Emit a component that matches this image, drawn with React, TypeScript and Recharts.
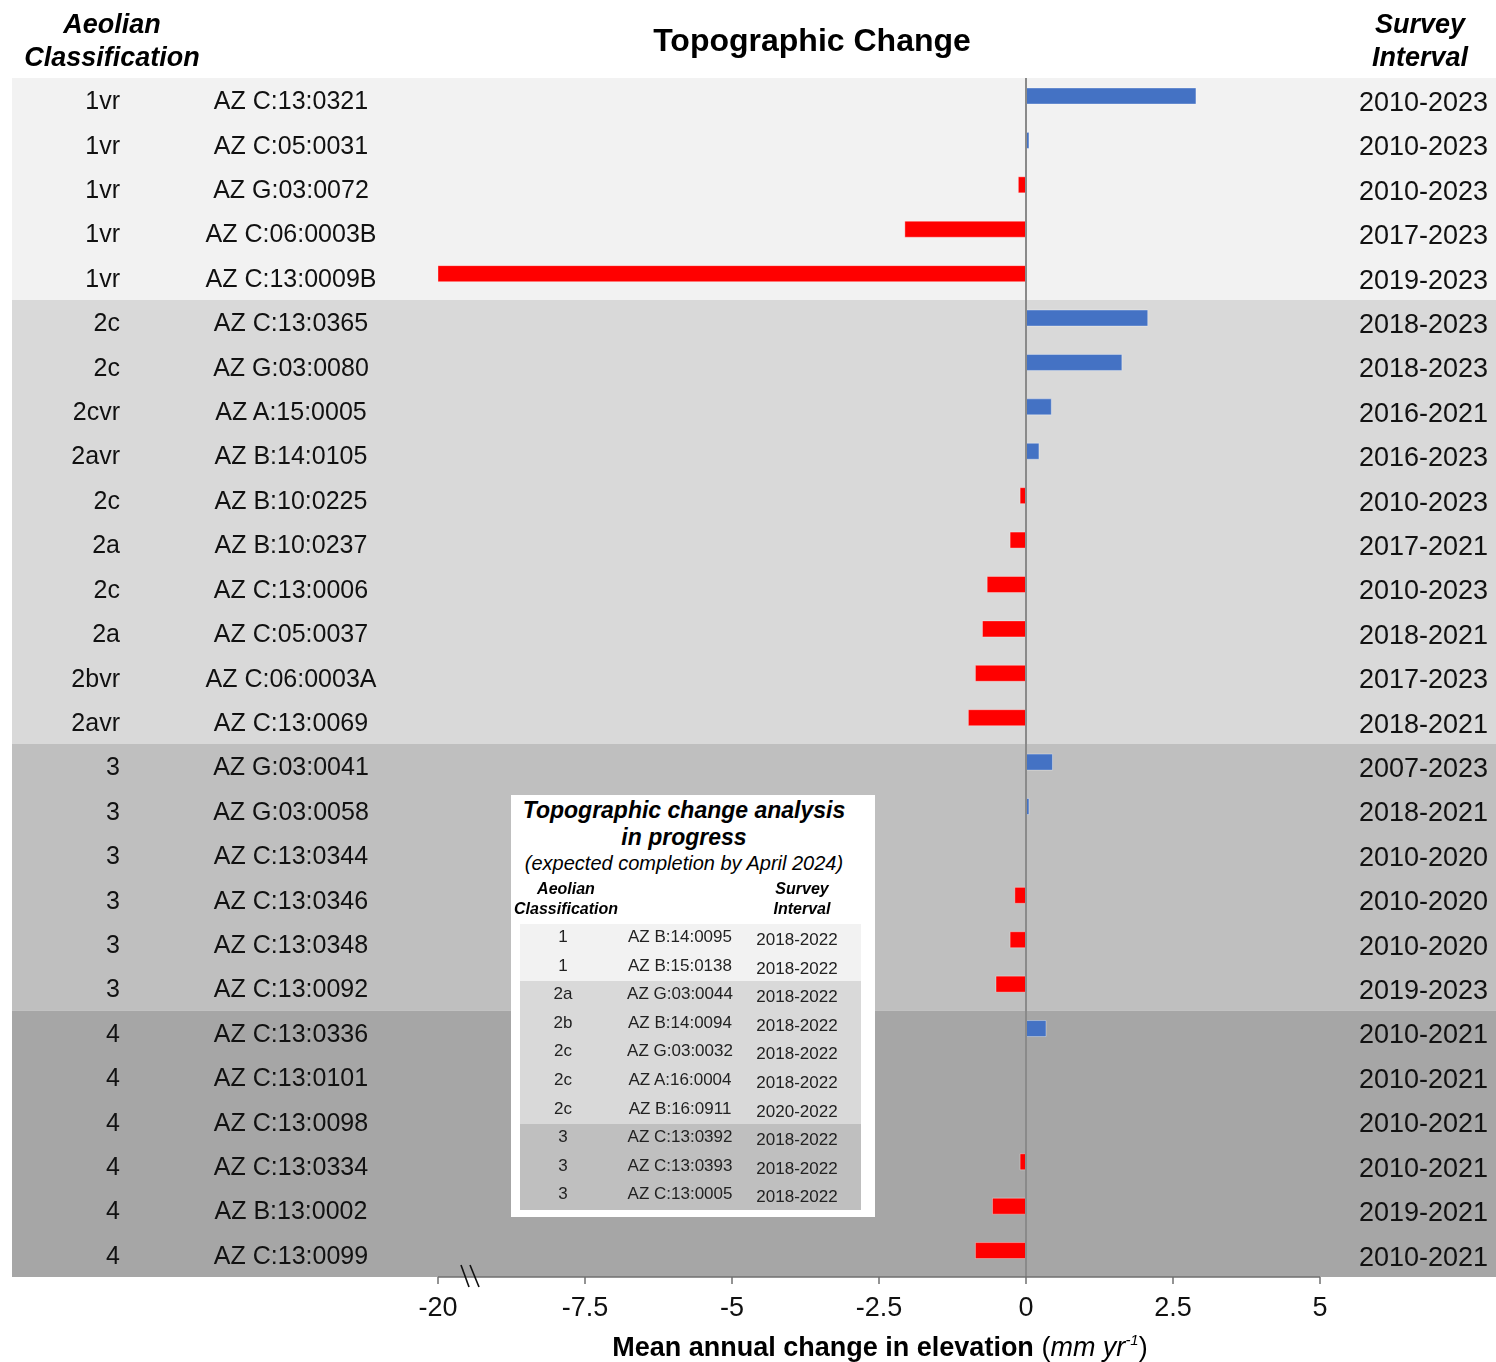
import React from 'react';
import { BarChart, Bar, XAxis, YAxis, ReferenceArea, ReferenceLine, Cell, Rectangle } from 'recharts';

// ---------- data ----------
const classes = ['1vr', '1vr', '1vr', '1vr', '1vr', '2c', '2c', '2cvr', '2avr', '2c', '2a', '2c', '2a', '2bvr', '2avr', '3', '3', '3', '3', '3', '3', '4', '4', '4', '4', '4', '4'];
const sites = ['AZ C:13:0321', 'AZ C:05:0031', 'AZ G:03:0072', 'AZ C:06:0003B', 'AZ C:13:0009B', 'AZ C:13:0365', 'AZ G:03:0080', 'AZ A:15:0005', 'AZ B:14:0105', 'AZ B:10:0225', 'AZ B:10:0237', 'AZ C:13:0006', 'AZ C:05:0037', 'AZ C:06:0003A', 'AZ C:13:0069', 'AZ G:03:0041', 'AZ G:03:0058', 'AZ C:13:0344', 'AZ C:13:0346', 'AZ C:13:0348', 'AZ C:13:0092', 'AZ C:13:0336', 'AZ C:13:0101', 'AZ C:13:0098', 'AZ C:13:0334', 'AZ B:13:0002', 'AZ C:13:0099'];
const intervals = ['2010-2023', '2010-2023', '2010-2023', '2017-2023', '2019-2023', '2018-2023', '2018-2023', '2016-2021', '2016-2023', '2010-2023', '2017-2021', '2010-2023', '2018-2021', '2017-2023', '2018-2021', '2007-2023', '2018-2021', '2010-2020', '2010-2020', '2010-2020', '2019-2023', '2010-2021', '2010-2021', '2010-2021', '2010-2021', '2019-2021', '2010-2021'];
const changes: (number | null)[] = [2.89, 0.05, -0.13, -2.06, -20, 2.07, 1.63, 0.43, 0.22, -0.1, -0.27, -0.66, -0.74, -0.86, -0.98, 0.45, 0.05, null, -0.19, -0.27, -0.51, 0.34, null, null, -0.1, -0.57, -0.86];

const groupRanges = [[0, 4], [5, 14], [15, 20], [21, 26]];
const groupColors = ['#f2f2f2', '#d9d9d9', '#bfbfbf', '#a6a6a6'];

const xTicks = [-20, -7.5, -5, -2.5, 0, 2.5, 5];

// inset table
const insetClasses = ['1', '1', '2a', '2b', '2c', '2c', '2c', '3', '3', '3'];
const insetSites = ['AZ B:14:0095', 'AZ B:15:0138', 'AZ G:03:0044', 'AZ B:14:0094', 'AZ G:03:0032', 'AZ A:16:0004', 'AZ B:16:0911', 'AZ C:13:0392', 'AZ C:13:0393', 'AZ C:13:0005'];
const insetIntervals = ['2018-2022', '2018-2022', '2018-2022', '2018-2022', '2018-2022', '2018-2022', '2020-2022', '2018-2022', '2018-2022', '2018-2022'];
const insetColors = ['#f2f2f2', '#f2f2f2', '#d9d9d9', '#d9d9d9', '#d9d9d9', '#d9d9d9', '#d9d9d9', '#bfbfbf', '#bfbfbf', '#bfbfbf'];

// ---------- broken axis mapping ----------
const BREAK = -7.5;
const COMPRESS = 2.5 / 12.5; // -20 .. -7.5 squeezed into -10 .. -7.5
const toPlot = (v: number) => (v >= BREAK ? v : BREAK + (v - BREAK) * COMPRESS);
const fromPlot = (p: number) => (p >= BREAK ? p : BREAK + (p - BREAK) / COMPRESS);

const rows = sites.map((site, i) => ({
  site,
  cls: classes[i],
  interval: intervals[i],
  change: changes[i],
  plot: changes[i] == null ? null : toPlot(changes[i] as number),
}));

// ---------- layout ----------
const W = 1488;
const H = 1354;
const PLOT_LEFT = 430;
const PLOT_RIGHT = 1312;
const PLOT_TOP = 70;
const PLOT_BOTTOM = 1269;
const X_AXIS_H = 60;
const BAND_LEFT = 4;
const BAND_RIGHT = 1488;
const DOMAIN: [number, number] = [toPlot(-20), 5];
const pxPerUnit = (PLOT_RIGHT - PLOT_LEFT) / (DOMAIN[1] - DOMAIN[0]);
const bandX1 = DOMAIN[0] - (PLOT_LEFT - BAND_LEFT) / pxPerUnit;
const bandX2 = DOMAIN[1] + (BAND_RIGHT - PLOT_RIGHT) / pxPerUnit;

const FONT = "'Liberation Sans', Arial, Helvetica, sans-serif";
const CLASS_X = 112;
const SITE_X = 283;
const INTERVAL_X = 1480;

const RowTick = (props: any) => {
  const { y, payload } = props;
  const row = rows.find((r) => r.site === payload.value);
  if (!row) return null;
  return (
    <g fontFamily={FONT}>
      <text x={CLASS_X} y={y} dy="0.36em" textAnchor="end" fontSize={25} fill="#111">{row.cls}</text>
      <text x={SITE_X} y={y} dy="0.36em" textAnchor="middle" fontSize={25} fill="#111">{row.site}</text>
      <text x={INTERVAL_X} y={y + 1} dy="0.36em" textAnchor="end" fontSize={27} fill="#111">{row.interval}</text>
    </g>
  );
};

const BarShape = (props: any) => <Rectangle {...props} y={props.y - 4} />;

const abs = (left: number, top: number, width: number, extra: React.CSSProperties = {}): React.CSSProperties => ({
  position: 'absolute', left, top, width, textAlign: 'center', fontFamily: FONT, color: '#000', ...extra,
});

export default function App() {
  return (
    <div style={{ position: 'fixed', left: 8, top: 8, width: W, height: H, fontFamily: FONT }}>
      <BarChart
        width={W}
        height={H}
        data={rows}
        layout="vertical"
        margin={{ top: PLOT_TOP, right: W - PLOT_RIGHT, bottom: H - PLOT_BOTTOM - X_AXIS_H, left: 0 }}
        barSize={16}
      >
        {groupRanges.map(([a, b], gi) => (
          <ReferenceArea
            key={gi}
            y1={sites[a]}
            y2={sites[b]}
            x1={bandX1}
            x2={bandX2}
            ifOverflow="visible"
            fill={groupColors[gi]}
            fillOpacity={1}
            stroke="none"
          />
        ))}
        <XAxis
          type="number"
          dataKey="plot"
          domain={DOMAIN}
          ticks={xTicks.map(toPlot)}
          allowDataOverflow
          height={X_AXIS_H}
          tickFormatter={(v: number) => String(Math.round(fromPlot(v) * 10) / 10)}
          tick={{ fontSize: 27, fill: '#111', fontFamily: FONT }}
          tickSize={7}
          tickMargin={13}
          axisLine={{ stroke: '#6f6f6f', strokeWidth: 1.5 }}
          tickLine={{ stroke: '#6f6f6f', strokeWidth: 1.5 }}
        />
        <YAxis
          type="category"
          dataKey="site"
          width={PLOT_LEFT}
          interval={0}
          axisLine={false}
          tickLine={false}
          tick={<RowTick />}
        />
        <Bar dataKey="plot" isAnimationActive={false} shape={<BarShape />} stroke="rgba(255,255,255,0.35)" strokeWidth={1}>
          {rows.map((r, i) => (
            <Cell key={i} fill={(r.change ?? 0) >= 0 ? '#4472c4' : '#ff0000'} />
          ))}
        </Bar>
        <ReferenceLine x={0} stroke="#8a8a8a" strokeWidth={2} ifOverflow="visible" />
      </BarChart>

      {/* headers */}
      <div style={abs(4, 0, 200, { fontSize: 27, fontWeight: 'bold', fontStyle: 'italic', lineHeight: '33px' })}>
        Aeolian<br />Classification
      </div>
      <div style={abs(604, 12, 400, { fontSize: 32, fontWeight: 'bold', lineHeight: '40px' })}>Topographic Change</div>
      <div style={abs(1312, 0, 200, { fontSize: 27, fontWeight: 'bold', fontStyle: 'italic', lineHeight: '33px' })}>
        Survey<br />Interval
      </div>

      {/* axis title */}
      <div style={abs(472, 1323, 800, { fontSize: 27, lineHeight: '32px', height: 32, whiteSpace: 'nowrap' })}>
        <span style={{ fontWeight: 'bold' }}>Mean annual change in elevation</span>{' '}
        <span>(<i>mm yr<span style={{ fontSize: 15, position: 'relative', top: -11 }}>-1</span></i>)</span>
      </div>

      {/* axis break marks */}
      <svg style={{ position: 'absolute', left: 0, top: 0, pointerEvents: 'none' }} width={W} height={H}>
        <line x1={453} y1={1257} x2={461} y2={1279} stroke="#111" strokeWidth={1.6} />
        <line x1={462} y1={1257} x2={471} y2={1279} stroke="#111" strokeWidth={1.6} />
      </svg>

      {/* inset */}
      <div style={{ position: 'absolute', left: 503, top: 787, width: 364, height: 422, background: '#fff', fontFamily: FONT }}>
        <div style={abs(0, 2, 346, { fontSize: 23, fontWeight: 'bold', fontStyle: 'italic', lineHeight: '27px' })}>
          Topographic change analysis<br />in progress
        </div>
        <div style={abs(0, 56, 346, { fontSize: 20, fontStyle: 'italic', lineHeight: '24px', whiteSpace: 'nowrap' })}>
          (expected completion by April 2024)
        </div>
        <div style={abs(-45, 84, 200, { fontSize: 16, fontWeight: 'bold', fontStyle: 'italic', lineHeight: '20px' })}>
          Aeolian<br />Classification
        </div>
        <div style={abs(191, 84, 200, { fontSize: 16, fontWeight: 'bold', fontStyle: 'italic', lineHeight: '20px' })}>
          Survey<br />Interval
        </div>
        <div style={{ position: 'absolute', left: 9, top: 129, width: 341 }}>
          {insetSites.map((s, i) => (
            <div key={i} style={{ position: 'relative', height: 28.6, background: insetColors[i], fontSize: 17, color: '#222' }}>
              <div style={abs(13, 3, 60, { lineHeight: '20px', color: '#222' })}>{insetClasses[i]}</div>
              <div style={abs(90, 3, 140, { lineHeight: '20px', color: '#222' })}>{s}</div>
              <div style={abs(217, 6, 120, { lineHeight: '20px', color: '#222' })}>{insetIntervals[i]}</div>
            </div>
          ))}
        </div>
      </div>
    </div>
  );
}
